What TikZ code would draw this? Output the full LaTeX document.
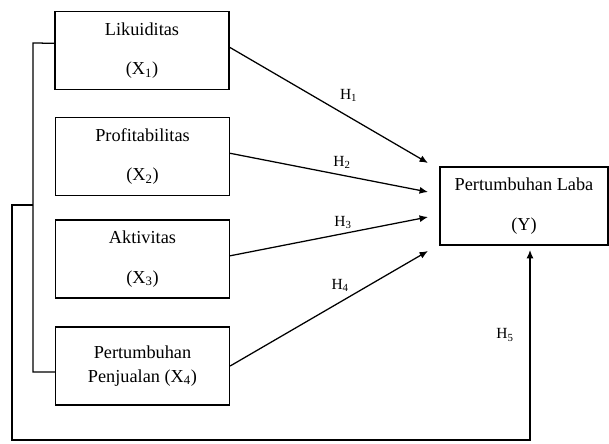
\documentclass[tikz,border=0pt]{standalone}
\usepackage{fontspec}
\setmainfont{Liberation Serif}
\usetikzlibrary{arrows.meta}

\begin{document}
\begin{tikzpicture}[x=0.025cm,y=-0.025cm,line width=0.9pt,>={Latex[length=6pt,width=5pt]},
  font=\fontsize{13}{15}\selectfont,
  kotak/.style={draw,minimum width=4.35cm,minimum height=1.95cm,align=center,inner sep=0pt},
  lbl/.style={inner sep=0pt,font=\fontsize{11}{13}\selectfont}]
\useasboundingbox (0,0) rectangle (609,444);
% ---------- variabel independen ----------
\node[kotak] (x1) at (142,50.5) {Likuiditas\\[13pt](X\textsubscript{1})};
\node[kotak] (x2) at (142.5,156.5) {Profitabilitas\\[13pt](X\textsubscript{2})};
\node[kotak] (x3) at (142.5,259) {Aktivitas\\[13pt](X\textsubscript{3})};
\node[kotak] (x4) at (142.5,366) {Pertumbuhan\\[2pt]Penjualan (X\textsubscript{4})};
% ---------- variabel dependen ----------
\node[kotak,minimum width=4.2cm] (y) at (524,206) {Pertumbuhan Laba\\[13pt](Y)};
% ujung panah di depan kotak Y
\coordinate (e1) at (428,163);
\coordinate (e2) at (428,192);
\coordinate (e3) at (428,217);
\coordinate (e4) at (428,251);
\draw[->] ([yshift=0.08cm]x1.east) -- (e1) node[lbl,pos=0.6,yshift=0.54cm] {H\textsubscript{1}};
\draw[->] ([yshift=0.08cm]x2.east) -- (e2) node[lbl,pos=0.566,yshift=0.32cm] {H\textsubscript{2}};
\draw[->] ([yshift=0.08cm]x3.east) -- (e3) node[lbl,pos=0.571,yshift=0.28cm] {H\textsubscript{3}};
\draw[->] (x4.east) -- (e4) node[lbl,pos=0.556,yshift=0.42cm] {H\textsubscript{4}};
% ---------- kurung kiri & simultan ----------
\coordinate (k1) at (33,43);
\coordinate (k4) at (33,372);
\draw ([yshift=0.18cm]x1.west) -- (k1) -- (k4) -- ([yshift=-0.15cm]x4.west);
\coordinate (j) at (33,205);
\coordinate (s) at (12,440);
\coordinate (s2) at (530,440);
\coordinate (h5) at (530,250);
\draw[->] (j) -| (s) -- (s2) -- (h5) node[lbl,pos=0.553,xshift=-0.625cm] {H\textsubscript{5}};
\end{tikzpicture}
\end{document}
